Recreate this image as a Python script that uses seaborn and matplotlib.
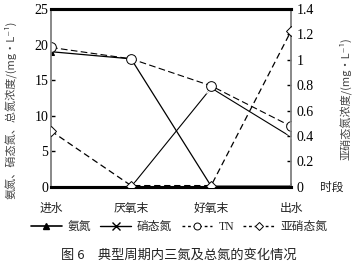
import matplotlib
matplotlib.use("Agg")
import matplotlib.pyplot as plt
import seaborn as sns
import pandas as pd
from matplotlib.lines import Line2D

stages = ["进水", "厌氧末", "好氧末", "出水"]
ammonia = [19.0, 18.0, 0.1, 0.1]
nitrate = [0.0, 0.0, 13.9, 7.0]
tn = [19.6, 18.0, 14.2, 8.5]
nitrite = [0.44, 0.01, 0.01, 1.23]

sns.set_theme(style="white")
plt.rcParams["font.family"] = ["Liberation Serif", "Noto Sans CJK SC"]

df = pd.DataFrame({"x": range(len(stages)), "stage": stages,
                   "氨氮": ammonia, "硝态氮": nitrate, "TN": tn, "亚硝态氮": nitrite})

fig = plt.figure(figsize=(3.58, 2.74), dpi=100)
ax = fig.add_axes([0.1425, 0.318, 0.671, 0.649])
ax2 = ax.twinx()

sns.lineplot(data=df, x="x", y="氨氮", ax=ax, color="black", lw=0.9,
             marker="^", markersize=4, markeredgecolor="black", markerfacecolor="black", zorder=3)
sns.lineplot(data=df, x="x", y="硝态氮", ax=ax, color="black", lw=0.8,
             marker="x", markersize=7, markeredgewidth=0.9, zorder=3)
sns.lineplot(data=df, x="x", y="TN", ax=ax, color="black", lw=0.8, dashes=False,
             linestyle=(0, (6, 3)), marker="o", markersize=7, markerfacecolor="white",
             markeredgecolor="black", markeredgewidth=0.7, zorder=3)
sns.lineplot(data=df, x="x", y="亚硝态氮", ax=ax2, color="black", lw=0.9,
             linestyle=(0, (5, 3)), marker="D", markersize=5.5, markerfacecolor="white",
             markeredgecolor="black", markeredgewidth=0.7, zorder=3)

ax.set_xlim(0, 3)
ax.set_ylim(0, 25)
ax2.set_ylim(0, 1.4)
ax.set_xticks(range(len(stages)))
ax.set_xticklabels(stages, fontsize=8.5, family="Noto Sans CJK SC", color="#222222")
ax.set_yticks([0, 5, 10, 15, 20, 25])
ax2.set_yticks([0, 0.2, 0.4, 0.6, 0.8, 1.0, 1.2, 1.4])
ax2.set_yticklabels(["0", "0.2", "0.4", "0.6", "0.8", "1", "1.2", "1.4"])
ax.tick_params(axis="y", direction="in", length=3, width=1, labelsize=10, pad=2, colors="black")
ax.tick_params(axis="x", length=0, pad=11)
ax2.tick_params(axis="y", direction="in", length=3, width=1, labelsize=10, pad=4, colors="black")
ax.set_xlabel("")
ax.set_ylabel("")
ax2.set_ylabel("")

fam = ["Noto Sans CJK SC", "DejaVu Sans"]
fig.text(0.03, 0.60, "氨氮、硝态氮、总氮浓度/(mg·L⁻¹)", rotation=90, fontsize=8,
         family=fam, color="#444444", ha="center", va="center")
fig.text(0.965, 0.64, "亚硝态氮浓度/(mg·L⁻¹)", rotation=90, fontsize=8,
         family=fam, color="#444444", ha="center", va="center")

for a in (ax, ax2):
    a.spines["top"].set_color("black")
    a.spines["top"].set_linewidth(2.2)
    a.spines["bottom"].set_color("black")
    a.spines["bottom"].set_linewidth(2.2)
    a.spines["left"].set_color("#888888")
    a.spines["left"].set_linewidth(1.2)
    a.spines["right"].set_color("#888888")
    a.spines["right"].set_linewidth(1.2)
    a.grid(False)

fig.text(0.893, 0.318, "时段", fontsize=8.5, family="Noto Sans CJK SC",
         va="center", ha="left", color="#222222")

handles = [
    Line2D([], [], color="black", lw=1.2, marker="^", markersize=4, markerfacecolor="black"),
    Line2D([], [], color="black", lw=1.0, marker="x", markersize=6),
    Line2D([], [], color="black", lw=1.0, linestyle=(0, (2, 2)), marker="o", markersize=5,
           markerfacecolor="white", markeredgewidth=0.7),
    Line2D([], [], color="black", lw=1.0, linestyle=(0, (2, 2)), marker="D", markersize=4.5,
           markerfacecolor="white", markeredgewidth=0.7),
]
fig.legend(handles, ["氨氮", "硝态氮", "TN", "亚硝态氮"], loc="center", bbox_to_anchor=(0.5, 0.172),
           ncol=4, frameon=False, handlelength=2.6, handletextpad=0.5,
           columnspacing=0.8, prop={"family": ["Liberation Serif", "Noto Sans CJK SC"], "size": 8.5})

fig.text(0.5, 0.07, "图 6　典型周期内三氮及总氮的变化情况", fontsize=9.5,
         family=["Noto Sans CJK SC"], ha="center", va="center", color="#222222")

fig.savefig("out.png", dpi=100)
